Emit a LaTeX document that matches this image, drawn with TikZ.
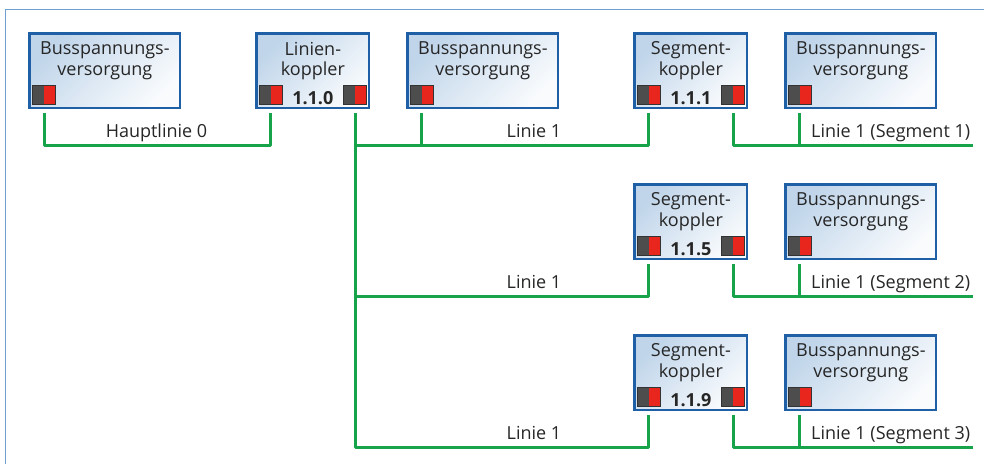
\documentclass[tikz,border=0pt]{standalone}
\usepackage{fontspec}
\setmainfont{Open Sans}
\usetikzlibrary{positioning}
\definecolor{rahmen}{HTML}{6E9FD3}
\definecolor{kasten}{HTML}{1F5FA6}
\definecolor{kastenA}{HTML}{C0D5EA}
\definecolor{kastenB}{HTML}{F9FBFD}
\definecolor{bus}{HTML}{17A34A}
\definecolor{klemmeA}{HTML}{4D4D4D}
\definecolor{klemmeB}{HTML}{E8261E}

\begin{document}
\begin{tikzpicture}[x=1pt,y=-1pt,
	geraet/.style={draw=kasten, line width=2.6pt, top color=kastenA, bottom color=kastenB, shading angle=45, minimum height=74.5pt, inner sep=0pt, anchor=north west},
	bv/.style={geraet, minimum width=150.5pt},
	koppler/.style={geraet, minimum width=112.5pt},
	beschr/.style={font=\fontsize{18}{20.5}\selectfont, align=center, inner sep=0pt, text=black!85},
	nummer/.style={font=\fontsize{18}{20}\selectfont\bfseries, anchor=base, inner sep=0pt, text=black!85},
	klemme/.style={draw=black!80, line width=0.7pt, fill=klemmeA, minimum width=23pt, minimum height=19pt, inner sep=0pt, path picture={\fill[klemmeB] (path picture bounding box.north) rectangle (path picture bounding box.south east);}},
	linie/.style={bus, line width=3pt, line join=round},
	ltext/.style={font=\fontsize{18}{20}\selectfont, anchor=base, inner sep=0pt, text=black!85}]
	\useasboundingbox (0,0) rectangle (984,464);
	\draw[rahmen, line width=1pt] (984,9) -- (5,9) -- (5,464);
	% Hauptlinie
	\node[bv] (bvh) at (28.3,32.3) {};
	\node[beschr, below=9.3pt of bvh.north] (bvhT) {Busspannungs-\\versorgung};
	\node[klemme, anchor=south west] (bvhK) at ([shift={(4pt,4.5pt)}]bvh.south west) {};
	\node[koppler] (lk) at (255.3,32.3) {};
	\node[beschr, below=9.3pt of lk.north] (lkT) {Linien-\\koppler};
	\node[klemme, anchor=south west] (lkA) at ([shift={(3.5pt,4.5pt)}]lk.south west) {};
	\node[klemme, anchor=south east] (lkB) at ([shift={(-3.5pt,4.5pt)}]lk.south east) {};
	\node[nummer] (lkN) at (lk.center |- lkA.south) {1.1.0};
	% Linie 1
	\node[bv] (bvl) at (406.3,32.3) {};
	\node[beschr, below=9.3pt of bvl.north] (bvlT) {Busspannungs-\\versorgung};
	\node[klemme, anchor=south west] (bvlK) at ([shift={(3.5pt,4.5pt)}]bvl.south west) {};
	% Segmentkoppler und Busspannungsversorgungen
	\node[koppler] (sk1) at (633.3,32.3) {};
	\node[beschr, below=9.3pt of sk1.north] (sk1T) {Segment-\\koppler};
	\node[klemme, anchor=south west] (sk1A) at ([shift={(3.5pt,4.5pt)}]sk1.south west) {};
	\node[klemme, anchor=south east] (sk1B) at ([shift={(-3.5pt,4.5pt)}]sk1.south east) {};
	\node[nummer] (sk1N) at (sk1.center |- sk1A.south) {1.1.1};
	\node[bv] (bvs1) at (784.3,32.3) {};
	\node[beschr, below=9.3pt of bvs1.north] (bvs1T) {Busspannungs-\\versorgung};
	\node[klemme, anchor=south west] (bvs1K) at ([shift={(3.5pt,4.5pt)}]bvs1.south west) {};
	\node[koppler] (sk5) at (633.3,183.3) {};
	\node[beschr, below=9.3pt of sk5.north] (sk5T) {Segment-\\koppler};
	\node[klemme, anchor=south west] (sk5A) at ([shift={(3.5pt,4.5pt)}]sk5.south west) {};
	\node[klemme, anchor=south east] (sk5B) at ([shift={(-3.5pt,4.5pt)}]sk5.south east) {};
	\node[nummer] (sk5N) at (sk5.center |- sk5A.south) {1.1.5};
	\node[bv] (bvs2) at (784.3,183.3) {};
	\node[beschr, below=9.3pt of bvs2.north] (bvs2T) {Busspannungs-\\versorgung};
	\node[klemme, anchor=south west] (bvs2K) at ([shift={(3.5pt,4.5pt)}]bvs2.south west) {};
	\node[koppler] (sk9) at (633.3,334.3) {};
	\node[beschr, below=9.3pt of sk9.north] (sk9T) {Segment-\\koppler};
	\node[klemme, anchor=south west] (sk9A) at ([shift={(3.5pt,4.5pt)}]sk9.south west) {};
	\node[klemme, anchor=south east] (sk9B) at ([shift={(-3.5pt,4.5pt)}]sk9.south east) {};
	\node[nummer] (sk9N) at (sk9.center |- sk9A.south) {1.1.9};
	\node[bv] (bvs3) at (784.3,334.3) {};
	\node[beschr, below=9.3pt of bvs3.north] (bvs3T) {Busspannungs-\\versorgung};
	\node[klemme, anchor=south west] (bvs3K) at ([shift={(3.5pt,4.5pt)}]bvs3.south west) {};
	% Buslinien
	\coordinate (h1) at (0,145);
	\coordinate (h2) at (0,296);
	\coordinate (h3) at (0,447);
	\coordinate (ende1) at (973,145);
	\coordinate (ende2) at (973,296);
	\coordinate (ende3) at (973,447);
	\draw[linie] ([yshift=-8pt]bvhK.south) -- (bvhK |- h1) -- (lkA |- h1) -- ([yshift=-8pt]lkA.south);
	\draw[linie] ([yshift=-8pt]lkB.south) -- (lkB |- h3) -- (sk9A |- h3) -- ([yshift=-8pt]sk9A.south);
	\draw[linie] (lkB |- h1) -- (sk1A |- h1) -- ([yshift=-8pt]sk1A.south);
	\draw[linie] ([yshift=-8pt]bvlK.south) -- (bvlK |- h1);
	\draw[linie] (lkB |- h2) -- (sk5A |- h2) -- ([yshift=-8pt]sk5A.south);
	\draw[linie] ([yshift=-8pt]sk1B.south) -- (sk1B |- h1) -- (ende1);
	\draw[linie] ([yshift=-8pt]bvs1K.south) -- (bvs1K |- h1);
	\draw[linie] ([yshift=-8pt]sk5B.south) -- (sk5B |- h2) -- (ende2);
	\draw[linie] ([yshift=-8pt]bvs2K.south) -- (bvs2K |- h2);
	\draw[linie] ([yshift=-8pt]sk9B.south) -- (sk9B |- h3) -- (ende3);
	\draw[linie] ([yshift=-8pt]bvs3K.south) -- (bvs3K |- h3);
	% Beschriftung der Linien
	\node[ltext] (tHaupt) at (156.5,137) {Hauptlinie 0};
	\node[ltext] (tL1) at (534,137) {Linie 1};
	\node[ltext] (tL2) at (534,288) {Linie 1};
	\node[ltext] (tL3) at (534,439) {Linie 1};
	\node[ltext, anchor=base west] (tS1) at (811,137) {Linie 1 (Segment 1)};
	\node[ltext, anchor=base west] (tS2) at (811,288) {Linie 1 (Segment 2)};
	\node[ltext, anchor=base west] (tS3) at (811,439) {Linie 1 (Segment 3)};
\end{tikzpicture}
\end{document}
